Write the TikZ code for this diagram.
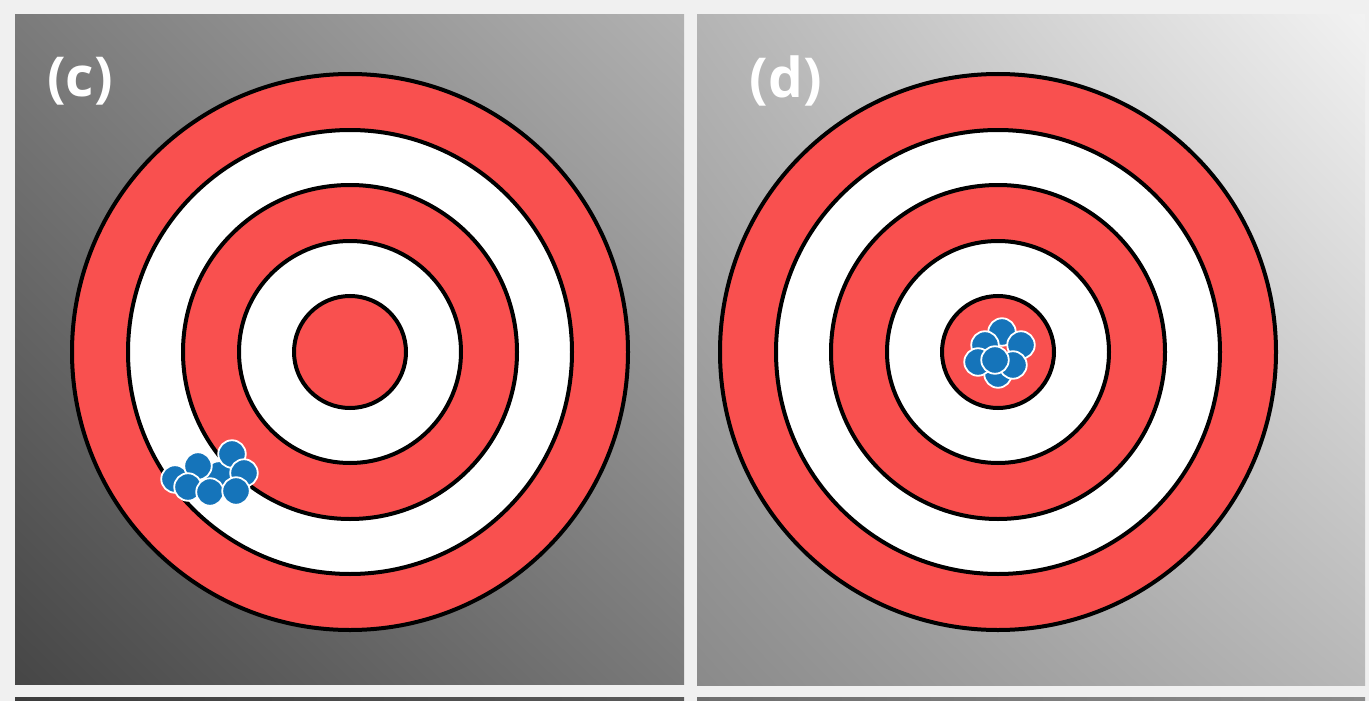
\documentclass[tikz,border=0pt]{standalone}
\usepackage{fontspec}
\usetikzlibrary{shadings}
\newfontfamily\labfont{Open Sans}
\definecolor{bg}{HTML}{F0F0F0}
\definecolor{ringred}{HTML}{F9504F}
\definecolor{dotblue}{HTML}{1574BA}
\definecolor{cul}{HTML}{7B7B7B}
\definecolor{cur}{HTML}{B2B2B2}
\definecolor{cll}{HTML}{464646}
\definecolor{clr}{HTML}{7A7A7A}
\definecolor{dul}{HTML}{B4B4B4}
\definecolor{dur}{HTML}{F2F2F2}
\definecolor{dll}{HTML}{8A8A8A}
\definecolor{dlr}{HTML}{B8B8B8}
\definecolor{sa}{HTML}{3C3C3C}
\definecolor{sb}{HTML}{5A5A5A}
\definecolor{sc}{HTML}{6E6E6E}
\definecolor{sd}{HTML}{8C8C8C}
\begin{document}
\begin{tikzpicture}[x=1pt,y=-1pt,
  ring/.style={draw=black,line width=4pt},
  redring/.style={ring,fill=ringred},
  whitering/.style={ring,fill=white},
  hit/.style={circle,fill=dotblue,draw=white,line width=1.8pt,minimum size=27.5pt,inner sep=0pt},
  lab/.style={text=white,font=\labfont\bfseries\fontsize{55}{55}\selectfont,inner sep=0pt}]
\useasboundingbox (0,0) rectangle (1369,701);
\fill[bg] (0,0) rectangle (1369,701);
% panels
\shade[upper left=cul,upper right=cur,lower left=cll,lower right=clr]
  (15,15) rectangle (684,684);
\shade[upper left=dul,upper right=dur,lower left=dll,lower right=dlr]
  (697,15) rectangle (1365,685);
% next row strips
\shade[left color=sa,right color=sb] (15,697) rectangle (684,701);
\shade[left color=sc,right color=sd] (697,697) rectangle (1365,701);
% target c
\coordinate (tc) at (350,352);
\draw[redring] (tc) circle (278);
\draw[whitering] (tc) circle (222);
\draw[redring] (tc) circle (167);
\draw[whitering] (tc) circle (111);
\draw[redring] (tc) circle (56);
% target d
\coordinate (td) at (998,352);
\draw[redring] (td) circle (278);
\draw[whitering] (td) circle (222);
\draw[redring] (td) circle (167);
\draw[whitering] (td) circle (111);
\draw[redring] (td) circle (56);
% hits c
\node[hit] (c4) at (219,475) {};
\node[hit] (c1) at (175,479) {};
\node[hit] (c3) at (232,454) {};
\node[hit] (c2) at (198,466) {};
\node[hit] (c5) at (244,473) {};
\node[hit] (c6) at (188,487) {};
\node[hit] (c7) at (210,492) {};
\node[hit] (c8) at (236,491) {};
% hits d
\node[hit] (d1) at (1002,332) {};
\node[hit] (d7) at (998,374) {};
\node[hit] (d3) at (1021,345) {};
\node[hit] (d2) at (985,345) {};
\node[hit] (d4) at (978,362) {};
\node[hit] (d6) at (1013,365) {};
\node[hit] (d5) at (995,360) {};
% labels
\node[lab] (lc) at (80,81) {(c)};
\node[lab] (ld) at (786,81) {(d)};
\end{tikzpicture}
\end{document}
